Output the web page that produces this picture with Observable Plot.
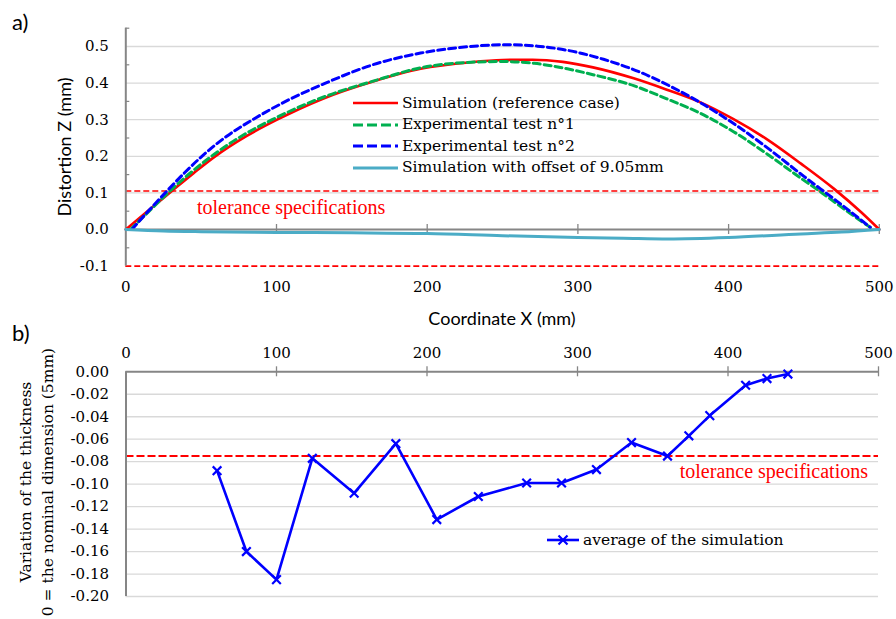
<!DOCTYPE html>
<html><head><meta charset="utf-8">
<script src="https://cdn.jsdelivr.net/npm/d3@7"></script>
<script src="https://cdn.jsdelivr.net/npm/@observablehq/plot@0.6"></script>
<style>
body{margin:0;background:#fff;}
#fig{position:relative;width:896px;height:619px;overflow:hidden;background:#fff;font-family:"DejaVu Serif",serif;color:#000;}
#fig svg.plot{position:absolute;left:0;}
.abs{position:absolute;white-space:nowrap;line-height:1;}
.rot{transform:translate(-50%,-50%) rotate(-90deg);}
.leg-row{display:flex;align-items:center;height:21.5px;}
.leg-row span{font-family:"DejaVu Serif",serif;font-size:15.5px;margin-left:4px;}
</style></head><body><div id="fig"></div>
<script>
// ---- panel a data ----
const simX  = [0, 15, 30.8, 45, 58.4, 80, 100.4, 130, 164.6, 195.6, 229, 250, 270, 290, 310, 337, 359, 381, 403, 426, 448, 470, 488, 500];
const simY  = [0, 0.052, 0.106, 0.154, 0.197, 0.255, 0.3, 0.356, 0.405, 0.439, 0.457, 0.463, 0.464, 0.458, 0.443, 0.413, 0.382, 0.348, 0.302, 0.245, 0.18, 0.111, 0.047, 0];
const exp1X = [3, 15, 29.6, 43, 56.2, 78, 97.1, 130, 164.6, 196, 229, 250, 271, 293, 310, 337, 359, 381, 403, 426, 448, 462, 481, 494];
const exp1Y = [0, 0.048, 0.106, 0.155, 0.198, 0.258, 0.3, 0.36, 0.406, 0.442, 0.457, 0.459, 0.454, 0.439, 0.423, 0.393, 0.357, 0.318, 0.268, 0.205, 0.14, 0.1, 0.043, 0.006];
const exp2X = [4, 16, 27.5, 39, 50.5, 67, 85, 107, 132.5, 164.6, 195.6, 228.7, 250.7, 273, 295, 317, 340, 362, 384, 406, 428, 450, 472, 494];
const exp2Y = [0, 0.055, 0.106, 0.155, 0.2, 0.255, 0.302, 0.352, 0.4, 0.451, 0.482, 0.5, 0.505, 0.501, 0.488, 0.465, 0.432, 0.39, 0.34, 0.282, 0.216, 0.145, 0.077, 0.006];
const offX  = [0, 25, 50, 100, 150, 200, 250, 300, 330, 360, 400, 448, 475, 500];
const offY  = [0, -0.004, -0.006, -0.008, -0.009, -0.011, -0.017, -0.022, -0.024, -0.026, -0.022, -0.012, -0.007, 0];
const tolA  = [0.105, -0.1];
const seriesA = [
  {name: "Simulation (reference case)", xs: simX, ys: simY, color: "#ff0000", dash: null, w: 2.6},
  {name: "Experimental test n°1", xs: exp1X, ys: exp1Y, color: "#00b050", dash: "7,4", w: 3},
  {name: "Experimental test n°2", xs: exp2X, ys: exp2Y, color: "#0000ff", dash: "7,4", w: 3},
  {name: "Simulation with offset of 9.05mm", xs: offX, ys: offY, color: "#4bacc6", dash: null, w: 3}
];
// ---- panel b data ----
const thickX = [60.5, 80, 100, 123.8, 151.6, 179.3, 206.5, 234.1, 266.2, 289.4, 312.6, 335.9, 359.8, 374, 387.9, 411.7, 425.9, 439.8];
const thickY = [-0.088, -0.16, -0.185, -0.077, -0.108, -0.064, -0.1315, -0.111, -0.099, -0.099, -0.087, -0.063, -0.075, -0.057, -0.039, -0.012, -0.006, -0.002];
const tolB = [-0.075];
// ---- ticks ----
const xTicks  = [0, 100, 200, 300, 400, 500];
const yTicksA = [-0.1, 0, 0.1, 0.2, 0.3, 0.4, 0.5];
const yMinorA = [-0.05, 0.05, 0.15, 0.25, 0.35, 0.45, 0.55];
const yTicksB = [0, -0.02, -0.04, -0.06, -0.08, -0.1, -0.12, -0.14, -0.16, -0.18, -0.2];

const AX = "#868686", GRID = "#d9d9d9";
const fig = document.getElementById("fig");
const toRows = s => s.xs.map((x, i) => ({x, y: s.ys[i]}));

const plotA = Plot.plot({
  width: 896, height: 300,
  marginLeft: 125.3, marginRight: 17.2, marginTop: 27.7, marginBottom: 34.4,
  x: {domain: [0, 500]}, y: {domain: [-0.1, 0.55]},
  style: {background: "transparent", fontFamily: "DejaVu Serif", fontSize: "15px", color: "#000", overflow: "visible"},
  marks: [
    Plot.ruleY(yTicksA.filter(d => d > 0), {stroke: GRID, strokeWidth: 1.3}),
    Plot.ruleY(tolA, {stroke: "#ff0000", strokeWidth: 1.6, strokeDasharray: "6,3"}),
    Plot.ruleY(yMinorA, {x1: 0, x2: 0, insetRight: -4, stroke: AX, strokeWidth: 1.2}),
    Plot.ruleX([0], {y1: -0.1, y2: 0.55, stroke: AX, strokeWidth: 2}),
    Plot.ruleY([0], {stroke: AX, strokeWidth: 2}),
    Plot.ruleX(xTicks.filter(d => d > 0), {y1: 0, y2: 0, insetTop: -5, insetBottom: -5, stroke: AX, strokeWidth: 1.3}),
    Plot.axisY({ticks: yTicksA, tickSize: 0, tickPadding: 17, tickFormat: d => d.toFixed(1), label: null}),
    Plot.axisX({ticks: xTicks, tickSize: 0, tickPadding: 15, tickFormat: d => String(d), label: null}),
    ...seriesA.map(s => Plot.line(toRows(s), {x: "x", y: "y", stroke: s.color, strokeWidth: s.w, strokeDasharray: s.dash, curve: "monotone-x"}))
  ]
});
plotA.style.top = "0px";
fig.appendChild(plotA);

const thick = thickX.map((x, i) => ({x, y: thickY[i]}));
const plotB = Plot.plot({
  width: 896, height: 319,
  marginLeft: 125.5, marginRight: 18, marginTop: 71.3, marginBottom: 23,
  x: {domain: [0, 500]}, y: {domain: [-0.2, 0]},
  style: {background: "transparent", fontFamily: "DejaVu Serif", fontSize: "15px", color: "#000", overflow: "visible"},
  marks: [
    Plot.ruleY(yTicksB.filter(d => d < 0), {stroke: GRID, strokeWidth: 1.3}),
    Plot.ruleY(tolB, {stroke: "#ff0000", strokeWidth: 2, strokeDasharray: "8,3"}),
    Plot.ruleX([0], {y1: -0.2, y2: 0, stroke: AX, strokeWidth: 2}),
    Plot.ruleY([0], {stroke: AX, strokeWidth: 2}),
    Plot.ruleX(xTicks.filter(d => d > 0), {y1: 0, y2: 0, insetTop: -5, insetBottom: -5, stroke: AX, strokeWidth: 1.3}),
    Plot.axisY({ticks: yTicksB, tickSize: 0, tickPadding: 17, tickFormat: d => d.toFixed(2), label: null}),
    Plot.axisX({anchor: "top", ticks: xTicks, tickSize: 0, tickPadding: 14, tickFormat: d => String(d), label: null}),
    Plot.line(thick, {x: "x", y: "y", stroke: "#0000ff", strokeWidth: 2.6}),
    Plot.dot(thick, {x: "x", y: "y", symbol: "times", r: 4, stroke: "#0000ff", strokeWidth: 2.2})
  ]
});
plotB.style.top = "300px";
fig.appendChild(plotB);

function addText(txt, css) {
  const d = document.createElement("div");
  d.className = "abs";
  d.textContent = txt;
  Object.assign(d.style, css);
  fig.appendChild(d);
  return d;
}
addText("a)", {left: "12px", top: "11px", fontFamily: "Lato", fontSize: "22px"});
addText("b)", {left: "12px", top: "322px", fontFamily: "Lato", fontSize: "22px"});
const ta = addText("Distortion Z (mm)", {left: "64px", top: "147px", fontFamily: "Lato", fontSize: "18px"});
ta.classList.add("rot");
addText("Coordinate X (mm)", {left: "502px", top: "318px", fontFamily: "Lato", fontSize: "18px", transform: "translate(-50%,-50%)"});
const tb1 = addText("Variation of the thickness", {left: "27px", top: "482px", fontFamily: "DejaVu Serif", fontSize: "15.5px"});
tb1.classList.add("rot");
const tb2 = addText("0 = the nominal dimension (5mm)", {left: "49px", top: "482px", fontFamily: "DejaVu Serif", fontSize: "15.5px"});
tb2.classList.add("rot");
addText("tolerance specifications", {left: "197px", top: "207px", transform: "translateY(-50%)", fontFamily: "Liberation Serif", fontSize: "20px", color: "#ff0000"});
addText("tolerance specifications", {left: "868px", top: "471px", transform: "translate(-100%,-50%)", fontFamily: "Liberation Serif", fontSize: "20px", color: "#ff0000"});

// legend a
const legA = document.createElement("div");
legA.className = "abs";
Object.assign(legA.style, {left: "353px", top: "92.5px"});
seriesA.forEach(s => {
  const row = document.createElement("div");
  row.className = "leg-row";
  row.innerHTML = `<svg width="45" height="10"><line x1="0" x2="45" y1="5" y2="5" stroke="${s.color}" stroke-width="${s.w}" ${s.dash ? `stroke-dasharray="10,4"` : ""}/></svg><span>${s.name}</span>`;
  legA.appendChild(row);
});
fig.appendChild(legA);

// legend b
const legB = document.createElement("div");
legB.className = "abs";
Object.assign(legB.style, {left: "547px", top: "529.5px"});
legB.innerHTML = `<div class="leg-row"><svg width="32" height="12"><line x1="0" x2="32" y1="6" y2="6" stroke="#0000ff" stroke-width="2.6"/><path d="M11.5,1.5L20.5,10.5M20.5,1.5L11.5,10.5" stroke="#0000ff" stroke-width="2.2"/></svg><span>average of the simulation</span></div>`;
fig.appendChild(legB);
</script></body></html>
